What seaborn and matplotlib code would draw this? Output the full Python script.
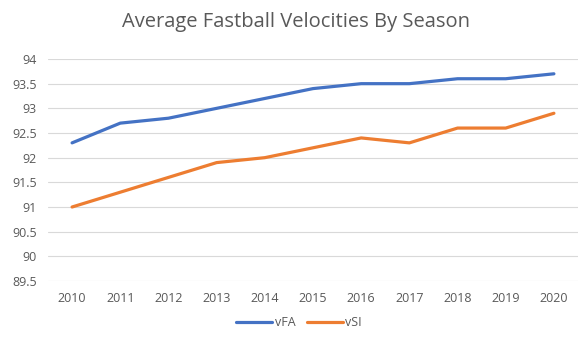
import matplotlib
matplotlib.use("Agg")
import matplotlib.pyplot as plt
import seaborn as sns
import pandas as pd

seasons = [2010, 2011, 2012, 2013, 2014, 2015, 2016, 2017, 2018, 2019, 2020]
vFA = [92.3, 92.7, 92.8, 93.0, 93.2, 93.4, 93.5, 93.5, 93.6, 93.6, 93.7]
vSI = [91.0, 91.3, 91.6, 91.9, 92.0, 92.2, 92.4, 92.3, 92.6, 92.6, 92.9]
yticks = [89.5, 90, 90.5, 91, 91.5, 92, 92.5, 93, 93.5, 94]

sns.set_theme(style="white")
plt.rcParams['font.family'] = ['Open Sans', 'DejaVu Sans']

df = pd.DataFrame({"pos": list(range(len(seasons))) * 2,
                   "Season": [str(s) for s in seasons] * 2,
                   "value": vFA + vSI,
                   "series": ["vFA"] * len(seasons) + ["vSI"] * len(seasons)})

fig = plt.figure(figsize=(5.82, 3.46), dpi=100)
ax = fig.add_axes([48/582, 1 - 281/346, 530/582, 222/346])
grey = "#595959"
for y in yticks:
    ax.axhline(y, color="#D9D9D9", lw=0.8, zorder=0)
sns.lineplot(data=df, x="pos", y="value", hue="series",
             palette={"vFA": "#4472C4", "vSI": "#ED7D31"},
             lw=2.3, ax=ax, legend=False, zorder=3,
             solid_capstyle="round", solid_joinstyle="round")
ax.set_xlim(-0.5, len(seasons) - 0.5)
ax.set_ylim(89.5, 94)
ax.set_xticks(range(len(seasons)))
ax.set_xticklabels([str(s) for s in seasons])
ax.set_yticks(yticks)
ax.set_yticklabels([f"{y:g}" for y in yticks])
ax.tick_params(axis="both", length=0, labelsize=9, labelcolor=grey, pad=8)
ax.set_xlabel("")
ax.set_ylabel("")
for s in ["top", "right", "left", "bottom"]:
    ax.spines[s].set_visible(False)

fig.text(296/582, 1 - 22/346, "Average Fastball Velocities By Season",
         ha="center", va="center", fontsize=14.5, color=grey)

from matplotlib.lines import Line2D
handles = [Line2D([], [], color="#4472C4", lw=2.3),
           Line2D([], [], color="#ED7D31", lw=2.3)]
fig.legend(handles, ["vFA", "vSI"], loc="center", bbox_to_anchor=(299/582, 1 - 323/346),
           ncol=2, frameon=False, fontsize=9, labelcolor=grey,
           handlelength=2.9, handletextpad=0.2, columnspacing=0.9)

fig.savefig("out.png", dpi=100)
